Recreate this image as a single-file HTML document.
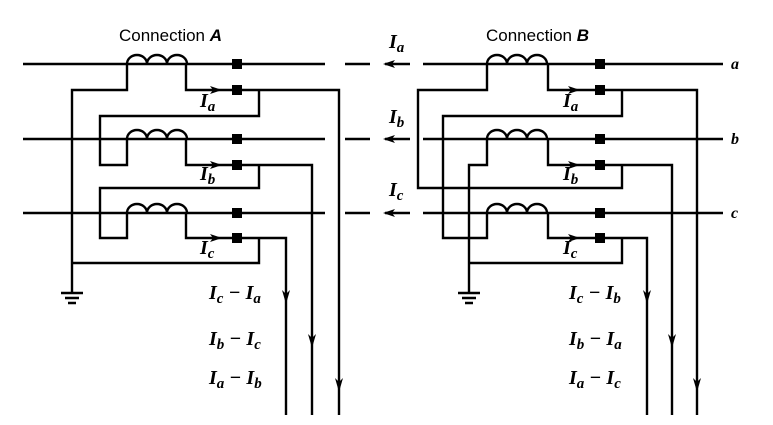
<!DOCTYPE html>
<html><head><meta charset="utf-8"><style>body{margin:0;background:#fff}svg{display:block}</style></head><body>
<svg width="773" height="425" viewBox="0 0 773 425" xmlns="http://www.w3.org/2000/svg">
<g fill="none" stroke="#000" stroke-width="2.4">
<line x1="23" y1="64" x2="325" y2="64"/><line x1="345" y1="64" x2="370" y2="64"/>
<line x1="23" y1="139" x2="325" y2="139"/><line x1="345" y1="139" x2="370" y2="139"/>
<line x1="23" y1="213" x2="325" y2="213"/><line x1="345" y1="213" x2="370" y2="213"/>
<path d="M127,64 a10,9 0 0 1 20,0 a10,9 0 0 1 20,0 a10,9 0 0 1 20,0"/>
<path d="M127,139 a10,9 0 0 1 20,0 a10,9 0 0 1 20,0 a10,9 0 0 1 20,0"/>
<path d="M127,213 a10,9 0 0 1 20,0 a10,9 0 0 1 20,0 a10,9 0 0 1 20,0"/>
<path d="M127,64 V90 H72 V293"/>
<path d="M186,64 V90 H339 V415"/>
<path d="M259,90 V116 H100 V165 H127 V139"/>
<path d="M186,139 V165 H312 V415"/>
<path d="M259,165 V188 H100 V238 H127 V213"/>
<path d="M186,213 V238 H286 V415"/>
<path d="M259,238 V263 H72"/>
<path d="M61,293 H83 M65,298 H79 M68,303 H76"/>
<line x1="423" y1="64" x2="723" y2="64"/>
<line x1="423" y1="139" x2="723" y2="139"/>
<line x1="423" y1="213" x2="723" y2="213"/>
<line x1="385" y1="64" x2="410" y2="64"/><line x1="385" y1="139" x2="410" y2="139"/><line x1="385" y1="213" x2="410" y2="213"/>
<path d="M487,64 a10,9 0 0 1 20,0 a10,9 0 0 1 20,0 a10,9 0 0 1 20,0"/>
<path d="M487,139 a10,9 0 0 1 20,0 a10,9 0 0 1 20,0 a10,9 0 0 1 20,0"/>
<path d="M487,213 a10,9 0 0 1 20,0 a10,9 0 0 1 20,0 a10,9 0 0 1 20,0"/>
<path d="M487,64 V90 H418 V188 H622 V165"/>
<path d="M548,64 V90 H697 V415"/>
<path d="M622,90 V116 H443 V238 H487 V213"/>
<path d="M487,139 V165 H469 V293"/>
<path d="M548,139 V165 H672 V415"/>
<path d="M548,213 V238 H647 V415"/>
<path d="M622,238 V263 H469"/>
<path d="M458,293 H480 M462,298 H476 M465,303 H473"/>
</g>
<g fill="#000">
<path d="M282,290 L286,304 L290,290 L286,294Z"/><path d="M308,334 L312,348 L316,334 L312,338Z"/><path d="M335,378 L339,392 L343,378 L339,382Z"/>
<path d="M643,290 L647,304 L651,290 L647,294Z"/><path d="M668,334 L672,348 L676,334 L672,338Z"/><path d="M693,378 L697,392 L701,378 L697,382Z"/>
<path d="M210,86 L222,90 L210,94 L213,90Z"/><path d="M210,161 L222,165 L210,169 L213,165Z"/><path d="M210,234 L222,238 L210,242 L213,238Z"/>
<path d="M568,86 L580,90 L568,94 L571,90Z"/><path d="M568,161 L580,165 L568,169 L571,165Z"/><path d="M568,234 L580,238 L568,242 L571,238Z"/>
<path d="M383,64 L395,60 L392,64 L395,68Z"/><path d="M383,139 L395,135 L392,139 L395,143Z"/><path d="M383,213 L395,209 L392,213 L395,217Z"/>
<rect x="232" y="59" width="10" height="10"/><rect x="232" y="85" width="10" height="10"/>
<rect x="232" y="134" width="10" height="10"/><rect x="232" y="160" width="10" height="10"/>
<rect x="232" y="208" width="10" height="10"/><rect x="232" y="233" width="10" height="10"/>
<rect x="595" y="59" width="10" height="10"/><rect x="595" y="85" width="10" height="10"/>
<rect x="595" y="134" width="10" height="10"/><rect x="595" y="160" width="10" height="10"/>
<rect x="595" y="208" width="10" height="10"/><rect x="595" y="233" width="10" height="10"/>
</g>
<g font-family="Liberation Sans, sans-serif" font-size="17" fill="#000">
<text x="119" y="41">Connection <tspan font-style="italic" font-weight="bold">A</tspan></text>
<text x="486" y="41">Connection <tspan font-style="italic" font-weight="bold">B</tspan></text>
</g>
<g font-family="Liberation Serif, serif" font-style="italic" font-weight="bold" font-size="20" fill="#000">
<text x="200" y="107">I<tspan font-size="15" dy="4">a</tspan></text>
<text x="200" y="180">I<tspan font-size="15" dy="4">b</tspan></text>
<text x="200" y="254">I<tspan font-size="15" dy="4">c</tspan></text>
<text x="563" y="107">I<tspan font-size="15" dy="4">a</tspan></text>
<text x="563" y="180">I<tspan font-size="15" dy="4">b</tspan></text>
<text x="563" y="254">I<tspan font-size="15" dy="4">c</tspan></text>
<text x="389" y="48">I<tspan font-size="15" dy="4">a</tspan></text>
<text x="389" y="123">I<tspan font-size="15" dy="4">b</tspan></text>
<text x="389" y="196">I<tspan font-size="15" dy="4">c</tspan></text>
<text x="731" y="69" font-size="16">a</text>
<text x="731" y="144" font-size="16">b</text>
<text x="731" y="218" font-size="16">c</text>
<text x="209" y="299">I<tspan font-size="15" dy="4">c</tspan><tspan dy="-4"> − I</tspan><tspan font-size="15" dy="4">a</tspan></text>
<text x="209" y="345">I<tspan font-size="15" dy="4">b</tspan><tspan dy="-4"> − I</tspan><tspan font-size="15" dy="4">c</tspan></text>
<text x="209" y="384">I<tspan font-size="15" dy="4">a</tspan><tspan dy="-4"> − I</tspan><tspan font-size="15" dy="4">b</tspan></text>
<text x="569" y="299">I<tspan font-size="15" dy="4">c</tspan><tspan dy="-4"> − I</tspan><tspan font-size="15" dy="4">b</tspan></text>
<text x="569" y="345">I<tspan font-size="15" dy="4">b</tspan><tspan dy="-4"> − I</tspan><tspan font-size="15" dy="4">a</tspan></text>
<text x="569" y="384">I<tspan font-size="15" dy="4">a</tspan><tspan dy="-4"> − I</tspan><tspan font-size="15" dy="4">c</tspan></text>
</g>
</svg>
</body></html>
